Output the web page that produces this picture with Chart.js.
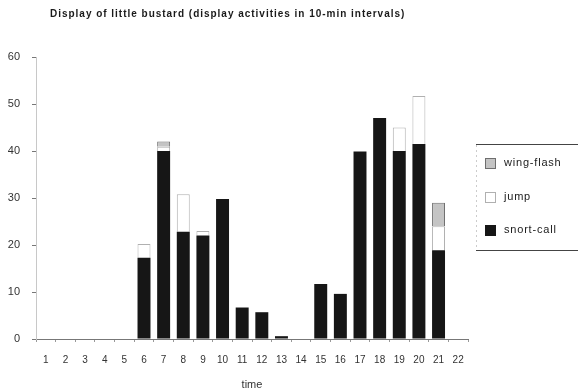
<!DOCTYPE html>
<html>
<head>
	<script src="https://cdn.jsdelivr.net/npm/chart.js@4.4.0/dist/chart.umd.min.js"></script>
	<title>Display of little bustard</title>
	<style>
		body { margin: 0; background: #fff; }
	</style>
</head>
<body>
	<canvas id="myChart" width="578" height="392"></canvas>
	<script type="text/javascript">
		const chartTitle = 'Display of little bustard (display activities in 10-min intervals)';
		const time_labels = ['1','2','3','4','5','6','7','8','9','10','11','12','13','14','15','16','17','18','19','20','21','22'];
		// null = no mark in that interval
		const snort_call = [0, 0, 0, 0, 0, 17.3, 40, 22.8, 22, 29.8, 6.7, 5.7, 0.6, 0, 11.7, 9.6, 39.9, 47, 40, 41.5, 18.9, 0];
		const jump       = [null, null, null, null, null, 2.9, 0.9, 8, 1, null, null, null, null, null, null, null, null, null, 5, 10.2, 5.1, null];
		const wing_flash = [null, null, null, null, null, null, 1.1, null, null, null, null, null, null, null, null, null, null, null, null, null, 5, null];
		const y_ticks = [0, 10, 20, 30, 40, 50, 60];

		const font = 'Liberation Sans';

		// title and boxed legend drawn by hand, like the original print
		const extras = {
			id: 'extras',
			afterDraw(chart) {
				const ctx = chart.ctx;
				ctx.save();
				ctx.fillStyle = '#1a1a1a';
				ctx.font = 'bold 10px "' + font + '"';
				ctx.textBaseline = 'middle';
				ctx.textAlign = 'left';
				const w = ctx.measureText(chartTitle).width;
				ctx.letterSpacing = ((355 - w) / chartTitle.length).toFixed(2) + 'px';
				ctx.fillText(chartTitle, 50, 14);

				// legend
				ctx.letterSpacing = '0.8px';
				ctx.font = '11px "' + font + '"';
				ctx.strokeStyle = '#444';
				ctx.lineWidth = 1;
				ctx.beginPath();
				ctx.moveTo(476, 144.5); ctx.lineTo(578, 144.5);
				ctx.moveTo(476, 250.5); ctx.lineTo(578, 250.5);
				ctx.stroke();
				ctx.strokeStyle = '#ccc';
				ctx.setLineDash([2, 3]);
				ctx.beginPath();
				ctx.moveTo(476.5, 145); ctx.lineTo(476.5, 250);
				ctx.stroke();
				ctx.setLineDash([]);
				const ds = chart.data.datasets.slice().reverse();
				const rows = [163, 197, 230];
				ds.forEach((d, i) => {
					const y = rows[i];
					ctx.fillStyle = d.backgroundColor;
					ctx.fillRect(485, y - 5, 11, 11);
					ctx.strokeStyle = d.borderColor;
					ctx.strokeRect(485.5, y - 4.5, 10, 10);
					ctx.fillStyle = '#1a1a1a';
					ctx.fillText(d.label, 504, y);
				});
				ctx.restore();
			}
		};

		const ctx = document.getElementById('myChart');
		const myChart = new Chart(ctx, {
			type: 'bar',
			data: {
				labels: time_labels,
				datasets: [
					{
						label: 'snort-call',
						data: snort_call,
						backgroundColor: '#161616',
						borderColor: '#161616',
						borderWidth: 0
					},
					{
						label: 'jump',
						data: jump,
						backgroundColor: '#ffffff',
						borderColor: '#b0b0b0',
						borderWidth: 1
					},
					{
						label: 'wing-flash',
						data: wing_flash,
						backgroundColor: '#c4c4c4',
						borderColor: '#6e6e6e',
						borderWidth: 1
					}
				]
			},
			options: {
				responsive: false,
				animation: false,
				barPercentage: 0.66,
				categoryPercentage: 1,
				layout: { padding: { top: 57, right: 110, left: 0, bottom: 0 } },
				plugins: {
					legend: { display: false },
					tooltip: { enabled: false }
				},
				scales: {
					x: {
						stacked: true,
						afterFit: s => { s.height = 53; },
						border: { display: true, color: '#777', width: 1 },
						grid: { display: true, drawOnChartArea: false, offset: true, tickLength: 3, color: '#999' },
						ticks: { color: '#333', padding: 12, font: { family: font, size: 10 } },
						title: { display: true, text: 'time', color: '#333', padding: { top: 6, bottom: 0 }, font: { family: font, size: 11 } }
					},
					y: {
						stacked: true,
						min: 0,
						max: 60,
						afterFit: s => { s.width = 36; },
						afterBuildTicks: s => { s.ticks = y_ticks.map(v => ({ value: v })); },
						border: { display: true, color: '#c8c8c8', width: 1, dash: [2, 2] },
						grid: { display: true, drawOnChartArea: false, tickLength: 4, color: '#777' },
						ticks: { color: '#333', padding: 12, font: { family: font, size: 11 } }
					}
				}
			},
			plugins: [extras]
		});
	</script>
</body>
</html>
